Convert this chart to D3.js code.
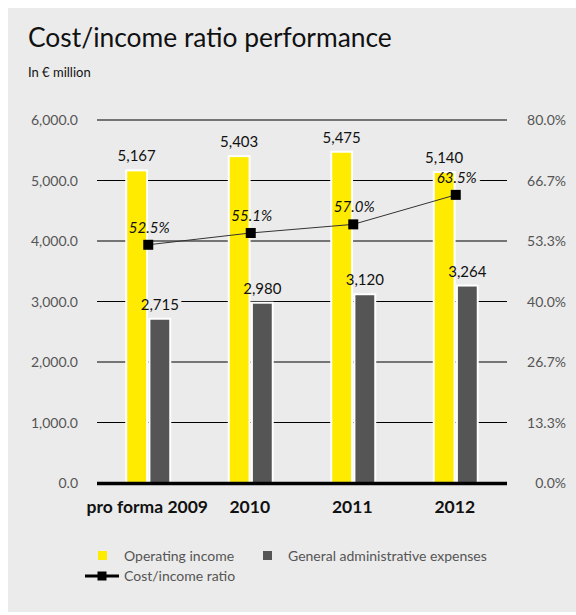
<!DOCTYPE html>
<html>
<head>
<meta charset="utf-8">
<script src="https://cdn.jsdelivr.net/npm/d3@7"></script>
<style>
  body { margin: 0; background: #fff; }
  svg { display: block; font-family: Lato, "Open Sans", sans-serif; }
</style>
</head>
<body>
<svg id="chart" width="576" height="615"></svg>
<script>
// data
var categories = ['pro forma 2009', '2010', '2011', '2012']
var operatingIncome = [5167, 5403, 5475, 5140]
var adminExpenses = [2715, 2980, 3120, 3264]
var costIncomeRatio = [52.5, 55.1, 57.0, 63.5]
var leftTicks = [0, 1000, 2000, 3000, 4000, 5000, 6000]
var rightTicks = [0, 80 / 6, 160 / 6, 40, 320 / 6, 400 / 6, 80]
var seriesNames = ['Operating income', 'General administrative expenses']

// colors
var colorBg = '#ebebeb'
var colorYellow = '#ffeb00'
var colorGray = '#555555'
var colorAxisText = '#555'

var svg = d3.select('#chart')
var plotLeft = 97, plotRight = 507, plotTop = 120, plotBottom = 483

svg.append('rect')
  .attr('x', 8).attr('y', 8).attr('width', 568).attr('height', 604)
  .attr('fill', colorBg)

var x0 = d3.scaleBand().domain(categories).range([plotLeft, plotRight])
var x1 = d3.scaleBand().domain([0, 1]).range([-22, 22]).paddingInner(0.1)
var y = d3.scaleLinear().domain([0, 6000]).range([plotBottom, plotTop])
var yr = d3.scaleLinear().domain([0, 80]).range([plotBottom, plotTop])
var cx = function(i) { return x0(categories[i]) + x0.bandwidth() / 2 }

// title
svg.append('text').attr('x', 28).attr('y', 47)
  .attr('font-size', 26.4).attr('fill', '#111')
  .text('Cost/income ratio performance')
svg.append('text').attr('x', 28).attr('y', 77)
  .attr('font-size', 13).attr('fill', '#111')
  .text('In € million')

// gridlines
svg.append('g').selectAll('line')
  .data(leftTicks.filter(function(d) { return d > 0 }))
  .join('line')
  .attr('x1', plotLeft).attr('x2', plotRight)
  .attr('y1', function(d) { return y(d) }).attr('y2', function(d) { return y(d) })
  .attr('stroke', '#000').attr('stroke-width', 1.2)

// axis labels
var fmtLeft = d3.format(',.1f')
svg.append('g').selectAll('text')
  .data(leftTicks).join('text')
  .attr('x', 78).attr('y', function(d) { return y(d) + 5 })
  .attr('text-anchor', 'end').attr('font-size', 14).attr('fill', colorAxisText)
  .text(function(d) { return fmtLeft(d) })
svg.append('g').selectAll('text')
  .data(rightTicks).join('text')
  .attr('x', 566).attr('y', function(d) { return yr(d) + 5 })
  .attr('text-anchor', 'end').attr('font-size', 14).attr('fill', colorAxisText)
  .text(function(d) { return d.toFixed(1) + '%' })

// label data
var valueLabels = []
operatingIncome.forEach(function(v, i) {
  valueLabels.push({ x: cx(i) + x1(0) + x1.bandwidth() / 2, y: y(v) - 9, t: d3.format(',')(v) })
})
adminExpenses.forEach(function(v, i) {
  valueLabels.push({ x: cx(i) + x1(1) + x1.bandwidth() / 2, y: y(v) - 9, t: d3.format(',')(v) })
})
var pctLabels = costIncomeRatio.map(function(v, i) {
  return { x: cx(i) + 1, y: yr(v) - 12, t: v.toFixed(1) + '%' }
})

function drawLabels(g, halo) {
  g.selectAll('text.v').data(valueLabels).join('text').attr('class', 'v')
    .attr('x', function(d) { return d.x }).attr('y', function(d) { return d.y })
    .attr('text-anchor', 'middle').attr('font-size', 15).attr('fill', '#111')
    .text(function(d) { return d.t })
  g.selectAll('text.p').data(pctLabels).join('text').attr('class', 'p')
    .attr('x', function(d) { return d.x }).attr('y', function(d) { return d.y })
    .attr('text-anchor', 'middle').attr('font-size', 15).attr('font-style', 'italic')
    .attr('fill', '#111')
    .text(function(d) { return d.t })
  if (halo) {
    g.selectAll('text').attr('stroke', colorBg).attr('stroke-width', 8)
      .attr('fill', colorBg).attr('stroke-linejoin', 'round')
  }
}
// halos under the bars so gridlines break around labels
drawLabels(svg.append('g'), true)

// bars
var bars = svg.append('g')
bars.selectAll('rect.op').data(operatingIncome).join('rect').attr('class', 'op')
  .attr('x', function(d, i) { return cx(i) + x1(0) })
  .attr('width', x1.bandwidth())
  .attr('y', function(d) { return y(d) })
  .attr('height', function(d) { return plotBottom - y(d) })
  .attr('fill', colorYellow).attr('stroke', '#fff').attr('stroke-width', 2)
bars.selectAll('rect.ad').data(adminExpenses).join('rect').attr('class', 'ad')
  .attr('x', function(d, i) { return cx(i) + x1(1) })
  .attr('width', x1.bandwidth())
  .attr('y', function(d) { return y(d) })
  .attr('height', function(d) { return plotBottom - y(d) })
  .attr('fill', colorGray).attr('stroke', '#fff').attr('stroke-width', 2)

// baseline
svg.append('line').attr('x1', plotLeft).attr('x2', plotRight)
  .attr('y1', plotBottom + 0.5).attr('y2', plotBottom + 0.5)
  .attr('stroke', '#000').attr('stroke-width', 3.5)

// ratio line
var line = d3.line()
  .x(function(d, i) { return cx(i) })
  .y(function(d) { return yr(d) })
svg.append('path').datum(costIncomeRatio).attr('d', line)
  .attr('fill', 'none').attr('stroke', '#333').attr('stroke-width', 1)
svg.append('g').selectAll('rect').data(costIncomeRatio).join('rect')
  .attr('x', function(d, i) { return cx(i) - 5 }).attr('y', function(d) { return yr(d) - 5 })
  .attr('width', 10).attr('height', 10).attr('fill', '#000')

drawLabels(svg.append('g'), false)

// category labels
svg.append('g').selectAll('text').data(categories).join('text')
  .attr('x', function(d, i) { return cx(i) - 1 }).attr('y', 513)
  .attr('text-anchor', 'middle').attr('font-size', 17.5).attr('font-weight', 'bold')
  .attr('fill', '#111')
  .text(function(d) { return d })

// legend
var legend = svg.append('g')
legend.append('rect').attr('x', 98).attr('y', 551).attr('width', 9).attr('height', 9).attr('fill', colorYellow)
legend.append('text').attr('x', 124).attr('y', 561).attr('font-size', 14).attr('fill', colorAxisText).text(seriesNames[0])
legend.append('rect').attr('x', 263).attr('y', 551).attr('width', 9).attr('height', 9).attr('fill', colorGray)
legend.append('text').attr('x', 288).attr('y', 561).attr('font-size', 14).attr('fill', colorAxisText).text(seriesNames[1])
legend.append('line').attr('x1', 85).attr('x2', 119).attr('y1', 576).attr('y2', 576)
  .attr('stroke', '#000').attr('stroke-width', 3)
legend.append('rect').attr('x', 97.5).attr('y', 571.5).attr('width', 9).attr('height', 9).attr('fill', '#000')
legend.append('text').attr('x', 124).attr('y', 581).attr('font-size', 14).attr('fill', colorAxisText).text('Cost/income ratio')
</script>
</body>
</html>
